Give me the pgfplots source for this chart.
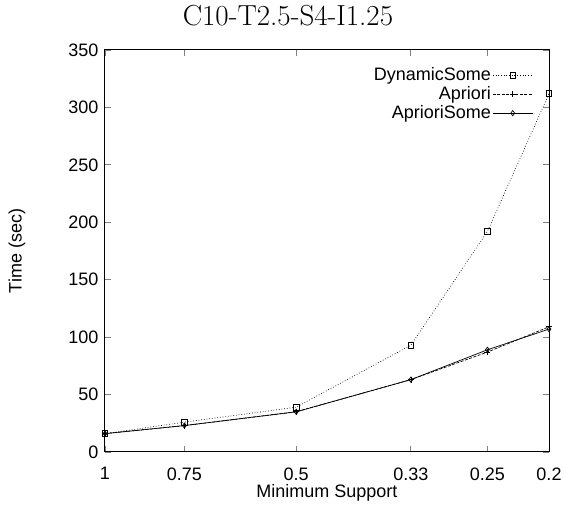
\documentclass[border=0pt]{standalone}
\usepackage{pgfplots}
\pgfplotsset{compat=1.18}
\usepackage{fontspec}
\setsansfont{Liberation Sans}
\begin{document}
\begin{tikzpicture}
\useasboundingbox (-105pt,-56pt) rectangle (460pt,452pt);
\begin{axis}[
  at={(0,0)}, anchor=south west,
  scale only axis, width=444pt, height=402pt,
  xmode=log, x dir=reverse,
  xmin=0.2, xmax=1, ymin=0, ymax=350,
  xtick={1,0.75,0.5,0.33,0.25,0.2},
  xticklabels={1,0.75,0.5,0.33,0.25,0.2},
  ytick={0,50,...,350},
  minor xtick={},
  log ticks with fixed point,
  tick align=inside, tick pos=both,
  major tick length=6pt,
  tick style={line width=0.8pt},
  /pgf/number format/assume math mode=true,
  ticklabel style={font=\fontsize{18}{20}\sffamily},
  xticklabel style={yshift=-12pt},
  yticklabel style={xshift=-3pt},
  label style={font=\fontsize{18}{20}\sffamily},
  title style={font=\fontsize{29}{32}\selectfont, at={(0.412,1)}, anchor=base, yshift=18pt},
  title={C10-T2.5-S4-I1.25},
  xlabel={Minimum Support},
  ylabel={Time (sec)},
  xlabel style={at={(0.5,0)}, anchor=base, yshift=-46pt},
  ylabel style={at={(0,0.5)}, anchor=center, yshift=88pt},
  axis line style={line width=1pt},
  legend style={draw=none, fill=none, at={(0.964,0.961)}, anchor=north east,
    inner sep=0pt, outer sep=0pt,
    font=\fontsize{18}{20}\sffamily, row sep=0pt,
    /tikz/every even column/.append style={column sep=5pt},
    nodes={inner sep=1.5pt, text height=13pt, text depth=3pt}},
  legend cell align=right,
  legend plot pos=right,
  legend image code/.code={\draw[mark repeat=2,mark phase=2] plot coordinates {(0cm,0cm) (0.7cm,0cm) (1.4cm,0cm)};},
  every axis plot/.append style={black, line width=0.7pt},
]
\addplot[dotted, mark=square, mark size=2.8pt, mark options={solid}]
  coordinates {(1,16) (0.75,26) (0.5,39) (0.33,93) (0.25,192) (0.2,312)};
\addlegendentry{DynamicSome}
\addplot[dash pattern=on 3pt off 1.5pt, mark=+, mark size=3pt, mark options={solid}]
  coordinates {(1,16) (0.75,23) (0.5,35) (0.33,63) (0.25,87) (0.2,109)};
\addlegendentry{Apriori}
\addplot[solid, mark=diamond, mark size=2.6pt]
  coordinates {(1,16) (0.75,23) (0.5,35) (0.33,63) (0.25,89) (0.2,107)};
\addlegendentry{AprioriSome}
\end{axis}
\end{tikzpicture}
\end{document}
